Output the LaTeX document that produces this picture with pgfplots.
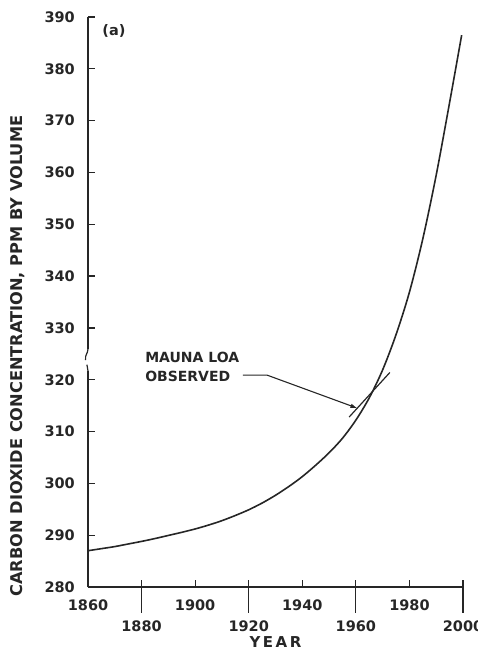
\documentclass[border=0pt]{standalone}
\usepackage{pgfplots}
\pgfplotsset{compat=1.18}
\usepackage{fontspec}
\setmainfont{DejaVu Sans}
\usetikzlibrary{arrows.meta}
\definecolor{ink}{gray}{0.15}
\begin{document}
\begin{tikzpicture}
\begin{axis}[
  name=ax,
  at={(0,0)}, anchor=south west,
  scale only axis,
  width=375pt, height=570pt,
  xmin=1860, xmax=2000, ymin=280, ymax=390,
  axis lines=left,
  axis line style={-, line width=1.4pt, ink},
  clip=false,
  xtick={1860,1880,1900,1920,1940,1960,1980,2000},
  xticklabels={1860,,1900,,1940,,1980,},
  extra x ticks={1880,1920,1960,2000},
  extra x tick labels={1880,1920,1960,2000},
  extra x tick style={tick align=outside, major tick length=26pt,
     xticklabel style={yshift=5pt}},
  tick align=inside,
  major tick length=7pt,
  tick style={line width=1.2pt, ink},
  ytick={280,290,300,310,320,330,340,350,360,370,380,390},
  yticklabels={280,290,300,310,320,330,340,350,360,370,380,390},
  xticklabel style={anchor=center, inner sep=0pt, yshift=-18pt, font=\fontsize{14.5}{16}\selectfont\bfseries, text=ink},
  yticklabel style={anchor=east, inner sep=0pt, xshift=-13pt, font=\fontsize{14.5}{16}\selectfont\bfseries, text=ink},
  ylabel={CARBON DIOXIDE CONCENTRATION, PPM BY VOLUME},
  ylabel style={at={(rel axis cs:-0.1867,0.405)}, anchor=center, inner sep=0pt, font=\fontsize{16.2}{18}\selectfont\bfseries, text=ink},
  xlabel={Y\,E\,A\,R},
  xlabel style={at={(rel axis cs:0.5,-0.0965)}, anchor=center, inner sep=0pt, font=\fontsize{15}{16}\selectfont\bfseries, text=ink},
]
\addplot[ink, line width=1.6pt, smooth] coordinates {
 (1860,287.0) (1865,287.4) (1870,287.8) (1875,288.3) (1880,288.8)
 (1885,289.35) (1890,289.95) (1895,290.55) (1900,291.2) (1905,291.95)
 (1910,292.8) (1915,293.8) (1920,294.9) (1925,296.2) (1930,297.7)
 (1935,299.4) (1940,301.3) (1945,303.5) (1950,305.9) (1955,308.7)
 (1960,312.2) (1965,316.5) (1970,321.9) (1975,328.7) (1980,336.9)
 (1985,347.2) (1990,359.5) (1995,373.5) (1999.5,386.5)
};
\addplot[ink, line width=1.2pt] coordinates {(1957.5,312.8) (1972.7,321.4)};
% axis break mark
\fill[white] (axis cs:1858.5,321.7) rectangle (axis cs:1861,326.0);
\draw[ink, line width=1.2pt] (axis cs:1860,326.0) .. controls (axis cs:1860,325.0) and (axis cs:1858.8,324.9) .. (axis cs:1859.1,323.8);
\draw[ink, line width=1.2pt] (axis cs:1859.6,322.9) -- (axis cs:1860,321.7);
\node[anchor=center, inner sep=0pt, font=\fontsize{14.5}{16}\selectfont\bfseries, text=ink] at (axis cs:1869.7,387.3) {(a)};
\node[anchor=west, inner sep=0pt, align=left, font=\fontsize{14}{19}\selectfont\bfseries, text=ink] at (axis cs:1881.3,322.45) {MAUNA LOA\\OBSERVED};
\draw[ink, line width=1.1pt, -{Latex[length=7pt,width=4.5pt]}] (axis cs:1917.8,320.9) -- (axis cs:1926.8,320.9) -- (axis cs:1960.6,314.5);
\end{axis}
\pgfresetboundingbox
\path ([shift={(-88pt,-66pt)}]ax.south west) rectangle ([shift={(14pt,17pt)}]ax.north east);
\end{tikzpicture}
\end{document}
